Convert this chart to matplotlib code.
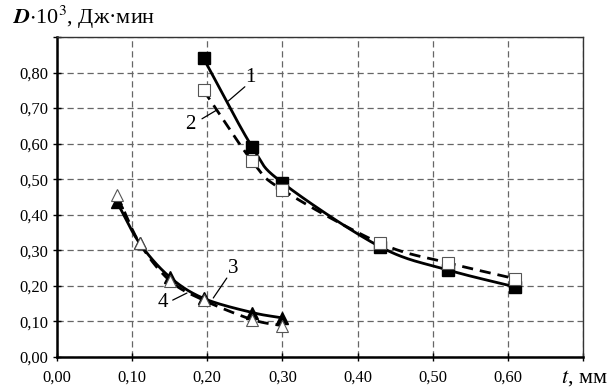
import numpy as np
import matplotlib
matplotlib.use("Agg")
import matplotlib.pyplot as plt

plt.rcParams['font.family'] = ['Liberation Serif', 'DejaVu Serif']
plt.rcParams['mathtext.fontset'] = 'stix'

# curve 1 (filled squares) and 2 (open squares)
t12 = [0.195, 0.26, 0.30, 0.43, 0.52, 0.61]
d1 = [0.84, 0.59, 0.49, 0.31, 0.245, 0.197]
d2 = [0.75, 0.55, 0.47, 0.32, 0.265, 0.22]
# curve 3 (filled triangles) and 4 (open triangles)
t34 = [0.08, 0.11, 0.15, 0.195, 0.26, 0.30]
d3 = [0.435, 0.32, 0.225, 0.165, 0.125, 0.11]
d4 = [0.455, 0.32, 0.215, 0.16, 0.105, 0.088]

xticks = [0.0, 0.1, 0.2, 0.3, 0.4, 0.5, 0.6, 0.7]
yticks = [0.0, 0.1, 0.2, 0.3, 0.4, 0.5, 0.6, 0.7, 0.8, 0.9]


def smooth(x, y, n=30):
    # Catmull-Rom style smoothing like Excel's smoothed line
    x = np.asarray(x, float)
    y = np.asarray(y, float)
    px = np.concatenate([[2 * x[0] - x[1]], x, [2 * x[-1] - x[-2]]])
    py = np.concatenate([[2 * y[0] - y[1]], y, [2 * y[-1] - y[-2]]])
    xs, ys = [], []
    s = np.linspace(0, 1, n)
    for i in range(1, len(px) - 2):
        for p, out in ((px, xs), (py, ys)):
            p0, p1, p2, p3 = p[i - 1], p[i], p[i + 1], p[i + 2]
            out.extend(0.5 * ((2 * p1) + (-p0 + p2) * s
                              + (2 * p0 - 5 * p1 + 4 * p2 - p3) * s ** 2
                              + (-p0 + 3 * p1 - 3 * p2 + p3) * s ** 3))
    return xs, ys


fig = plt.figure(figsize=(6.14, 3.87), dpi=100)
ax = fig.add_axes([0.0928, 0.0775, 0.8567, 0.8269])

ax.plot(*smooth(t12, d2), color='black', lw=2, ls=(0, (4, 2.5)), zorder=3)
ax.plot(*smooth(t12, d1), color='black', lw=2, zorder=3)
ax.plot(*smooth(t34, d4), color='black', lw=2, ls=(0, (4, 2.5)), zorder=3)
ax.plot(*smooth(t34, d3), color='black', lw=2, zorder=3)

ax.plot(t12, d1, ls='none', marker='s', ms=8, mfc='black', mec='black', zorder=4)
ax.plot(t12, d2, ls='none', marker='s', ms=8, mfc='white', mec='#555555', mew=0.8, zorder=5)
ax.plot(t34, d3, ls='none', marker='^', ms=8, mfc='black', mec='black', zorder=4)
ax.plot(t34, d4, ls='none', marker='^', ms=8, mfc='white', mec='#555555', mew=0.8, zorder=5)

ax.set_xlim(0, 0.7)
ax.set_ylim(0, 0.9)
ax.set_xticks(xticks)
ax.set_yticks(yticks)
ax.set_xticklabels([f"{v:.2f}".replace('.', ',') for v in xticks[:-1]] + [''])
ax.set_yticklabels([f"{v:.2f}".replace('.', ',') for v in yticks[:-1]] + [''])
ax.tick_params(direction='inout', length=6, width=1, labelsize=12, color='black')
ax.tick_params(axis='x', pad=6)
ax.grid(True, color='#666666', ls=(0, (5, 3)), lw=0.9)

for side in ['left', 'bottom']:
    ax.spines[side].set_linewidth(1.8)
for side in ['top', 'right']:
    ax.spines[side].set_linewidth(1.0)
    ax.spines[side].set_color('#333333')

# curve numbers with leader lines
labels = [("1", (0.258, 0.785), (0.228, 0.72), (0.25, 0.76)),
          ("2", (0.177, 0.655), (0.193, 0.67), (0.213, 0.695)),
          ("3", (0.234, 0.25), (0.226, 0.222), (0.208, 0.166)),
          ("4", (0.141, 0.152), (0.154, 0.16), (0.173, 0.18))]
for txt, pos, p0, p1 in labels:
    ax.text(pos[0], pos[1], txt, fontsize=15, ha='center', va='center', zorder=6)
    ax.annotate('', xy=p1, xytext=p0,
                arrowprops=dict(arrowstyle='-', color='black', lw=0.9,
                                shrinkA=0, shrinkB=0))

fig.text(0.02, 0.955, r"$\boldsymbol{D}$$\cdot$10$^3$, Дж·мин", fontsize=16, ha='left', va='center')
fig.text(0.99, 0.023, r"$t$, мм", fontsize=16, ha='right', va='center')

fig.savefig("out.png", dpi=100)
